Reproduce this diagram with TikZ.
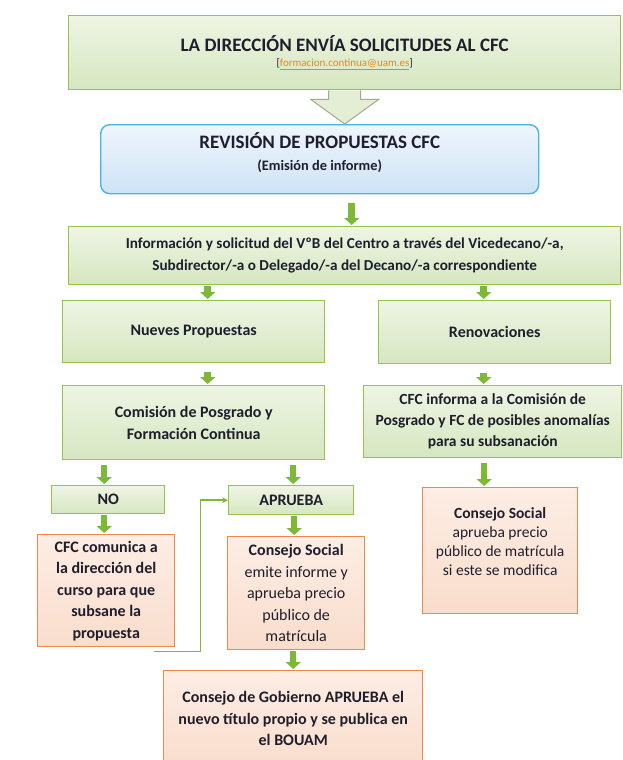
\documentclass[tikz,border=0pt]{standalone}
\usepackage{fontspec}
\setmainfont{Carlito}
\usetikzlibrary{arrows.meta,calc}
\definecolor{gborder}{RGB}{150,196,70}
\definecolor{gtop}{RGB}{238,245,228}
\definecolor{gbot}{RGB}{214,230,192}
\definecolor{oborder}{RGB}{240,135,75}
\definecolor{otop}{RGB}{253,237,228}
\definecolor{obot}{RGB}{249,221,204}
\definecolor{bborder}{RGB}{70,180,230}
\definecolor{btop}{RGB}{238,245,252}
\definecolor{bbot}{RGB}{206,227,246}
\definecolor{garrowc}{RGB}{125,185,55}
\definecolor{txt}{RGB}{30,30,45}
\definecolor{hfill}{RGB}{228,238,212}
\definecolor{hdraw}{RGB}{160,172,140}
\definecolor{mail}{RGB}{235,135,25}
\newcommand\fb{\fontsize{16}{21.5}\selectfont\bfseries}
\newcommand\fr{\fontsize{16}{21.5}\selectfont\mdseries}
\newcommand\fs{\fontsize{15.5}{19}\selectfont}
\tikzset{
  base/.style={anchor=north west, align=center, text=txt, inner sep=2pt, line width=1.4pt},
  gbox/.style={base, draw=gborder, top color=gtop, bottom color=gbot},
  obox/.style={base, draw=oborder, top color=otop, bottom color=obot},
  bbox/.style={base, draw=bborder, top color=btop, bottom color=bbot, rounded corners=9pt},
  garr/.style={draw=garrowc, line width=6.5pt, shorten <=1pt, shorten >=1pt, -{Triangle[width=15pt,length=7pt]}},
  hollowarr/.style={draw=hdraw, fill=hfill, line width=1pt, line join=miter},
  thinarr/.style={draw=garrowc, line width=1.6pt, -{Stealth[length=6pt,width=6pt]}}
}
\begin{document}
\begin{tikzpicture}[x=1pt,y=-1pt]
\useasboundingbox (0,0) rectangle (623,760);

\node[gbox, minimum width=552pt, minimum height=74pt] (top) at (68,15)
  {{\fontsize{19}{21}\selectfont\bfseries LA DIRECCIÓN ENVÍA SOLICITUDES AL CFC}\\[3pt]
   {\fontsize{11}{12}\selectfont [\textcolor{mail}{\underline{formacion.continua@uam.es}}]}};

\node[bbox, minimum width=438pt, minimum height=69pt] (rev) at (100,124)
  {{\fontsize{19}{21}\selectfont\bfseries REVISIÓN DE PROPUESTAS CFC}\\[10pt]
   {\fontsize{14.4}{16}\selectfont\bfseries (Emisión de informe)}\\[4pt]};

\node[gbox, minimum width=552pt, minimum height=58pt, font=\fontsize{15.2}{22}\selectfont\bfseries] (info) at (68,226)
  {Información y solicitud del VºB del Centro a través del Vicedecano/-a,\\
   Subdirector/-a o Delegado/-a del Decano/-a correspondiente};

\node[gbox, minimum width=262pt, minimum height=62pt, font=\fb] (nue) at (62,300) {Nueves Propuestas};
\node[gbox, minimum width=232pt, minimum height=63pt, font=\fb] (reno) at (378,300) {Renovaciones};

\node[gbox, minimum width=262pt, minimum height=74pt, font=\fb] (com) at (62,385)
  {Comisión de Posgrado y\\ Formación Continua};
\node[gbox, minimum width=258pt, minimum height=72pt, font=\fontsize{15.5}{21}\selectfont\bfseries] (cinf) at (363,385)
  {CFC informa a la Comisión de\\ Posgrado y FC de posibles anomalías\\ para su subsanación};

\node[gbox, minimum width=113pt, minimum height=28pt, font=\fb] (no) at (51,485) {NO};
\node[gbox, minimum width=125pt, minimum height=29pt, font=\fb] (apr) at (228,485) {APRUEBA};

\node[obox, minimum width=155pt, minimum height=126pt, font=\fs] (cs2) at (422,487)
  {\textbf{Consejo Social}\\ aprueba precio\\ público de matrícula\\ si este se modifica\\ \mbox{}};

\node[obox, minimum width=137pt, minimum height=112pt, font=\fb] (ccom) at (37,534)
  {CFC comunica a\\ la dirección del\\ curso para que\\ subsane la\\ propuesta};
\node[obox, minimum width=137pt, minimum height=113pt, font=\fr] (cs1) at (227,536)
  {\textbf{Consejo Social}\\ emite informe y\\ aprueba precio\\ público de\\ matrícula};

\node[obox, minimum width=259pt, minimum height=96pt, font=\fb] (gob) at (163,670)
  {Consejo de Gobierno APRUEBA el\\ nuevo título propio y se publica en\\ el BOUAM};

% hollow arrow top -> rev
\draw[hollowarr] ($(top.south)+(-16,0)$) -- ++(0,9) -- ++(-18,0)
  -- (top.south |- rev.north) -- ($(top.south)+(34,9)$) -- ++(-18,0) -- ++(0,-9);

% green block arrows
\draw[garr] ([xshift=32pt]rev.south) ++(0,8) -- ([xshift=32pt]rev.south |- info.north);
\draw[garr] ([xshift=14pt]nue.north |- info.south) -- ([xshift=14pt]nue.north);
\draw[garr] ([xshift=-11pt]reno.north |- info.south) -- ([xshift=-11pt]reno.north);
\draw[garr] ([xshift=14pt]nue.south) ++(0,8) -- ([xshift=14pt]nue.south |- com.north);
\draw[garr] ([xshift=-11pt]reno.south) ++(0,8) -- ([xshift=-11pt]reno.south |- cinf.north);
\draw[garr] ([xshift=-4pt]no.north |- com.south) ++(0,4) -- ([xshift=-4pt]no.north);
\draw[garr] ([xshift=2pt]apr.north |- com.south) ++(0,4) -- ([xshift=2pt]apr.north);
\draw[garr] ([xshift=-16pt]cs2.north |- cinf.south) ++(0,4) -- ([xshift=-16pt]cs2.north);
\draw[garr] ([xshift=-2pt]ccom.north |- no.south) -- ([xshift=-2pt]ccom.north);
\draw[garr] ([xshift=-2pt]cs1.north |- apr.south) -- ([xshift=-2pt]cs1.north);
\draw[garr] ([xshift=-3pt]cs1.south) -- ([xshift=-3pt]cs1.south |- gob.north);

% loop back connector
\draw[thinarr] ([shift={(-21pt,-4pt)}]ccom.south east) -- ++(46,0) |- (apr.west);
\end{tikzpicture}
\end{document}
